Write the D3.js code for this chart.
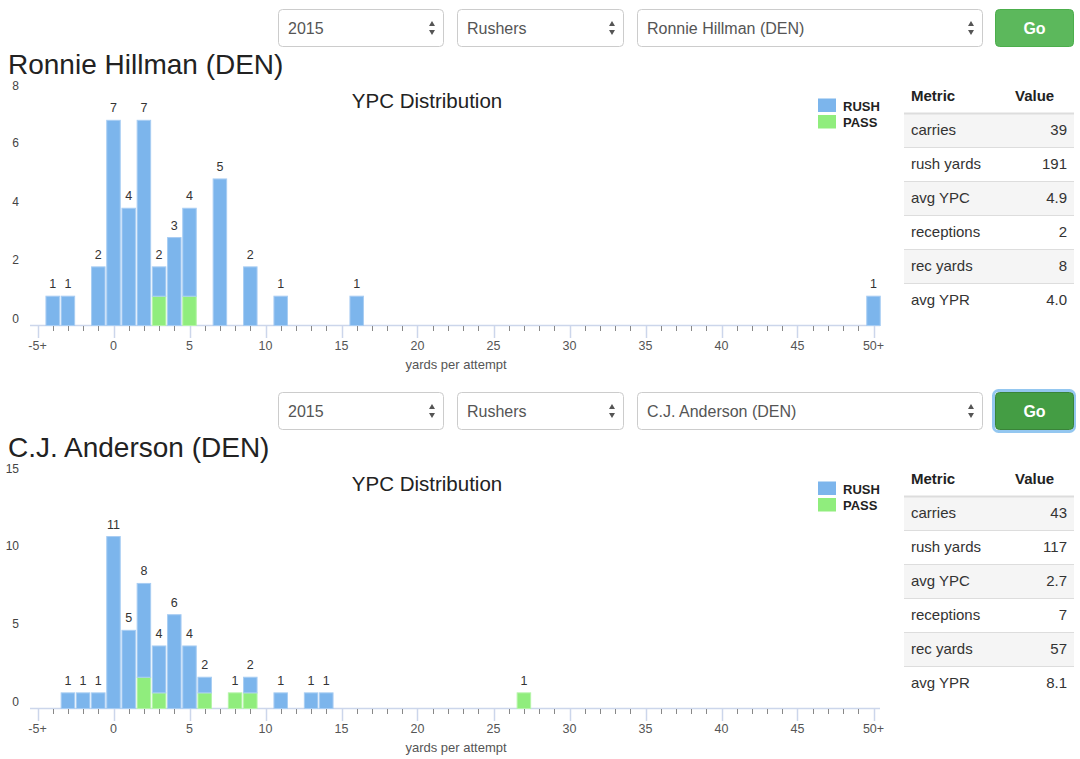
<!DOCTYPE html>
<html>
<head>
<meta charset="utf-8">
<script src="https://cdn.jsdelivr.net/npm/d3@7/dist/d3.min.js"></script>
<style>
  html, body { margin: 0; padding: 0; background: #fff; }
  svg { display: block; font-family: "Helvetica Neue", Helvetica, Arial, "Liberation Sans", sans-serif; }
</style>
</head>
<body>
<svg id="page" width="1080" height="759"></svg>
<script>
// ---------- DATA ----------
const xTickValues = [-5, 0, 5, 10, 15, 20, 25, 30, 35, 40, 45, 50];
const xTickLabels = ["-5+", "0", "5", "10", "15", "20", "25", "30", "35", "40", "45", "50+"];
const metricNames = ["carries", "rush yards", "avg YPC", "receptions", "rec yards", "avg YPR"];
const controlYear = "2015";
const controlType = "Rushers";

const hillmanName = "Ronnie Hillman (DEN)";
const hillmanYards = [-4, -3, -1, 0, 1, 2, 3, 4, 5, 7, 9, 11, 16, 50];
const hillmanRush  = [ 1,  1,  2, 7, 4, 7, 1, 3, 3, 5, 2, 1,  1,  1];
const hillmanPass  = [ 0,  0,  0, 0, 0, 0, 1, 0, 1, 0, 0, 0,  0,  0];
const hillmanYTicks = [0, 2, 4, 6, 8];
const hillmanStats = ["39", "191", "4.9", "2", "8", "4.0"];

const andersonName = "C.J. Anderson (DEN)";
const andersonYards = [-3, -2, -1, 0, 1, 2, 3, 4, 5, 6, 8, 9, 11, 13, 14, 27];
const andersonRush  = [ 1,  1,  1, 11, 5, 6, 3, 6, 4, 1, 0, 1, 1, 1, 1, 0];
const andersonPass  = [ 0,  0,  0, 0, 0, 2, 1, 0, 0, 1, 1, 1, 0, 0, 0, 1];
const andersonYTicks = [0, 5, 10, 15];
const andersonStats = ["43", "117", "2.7", "7", "57", "8.1"];

const legendLabels = ["RUSH", "PASS"];
const chartTitle = "YPC Distribution";
const xAxisTitle = "yards per attempt";

// ---------- DRAW ----------
const svg = d3.select("#page");
svg.append("rect").attr("width", 1080).attr("height", 759).attr("fill", "#fff");

const BLUE = "#7cb5ec", GREEN = "#90ed7d";

function drawSelect(g, x, w, label) {
  const s = g.append("g");
  s.append("rect").attr("x", x + 0.5).attr("y", 9.5).attr("width", w).attr("height", 37)
    .attr("rx", 4).attr("fill", "#fff").attr("stroke", "#ccc");
  s.append("text").attr("x", x + 10).attr("y", 34).attr("font-size", 16).attr("fill", "#555").text(label);
  const ax = x + w - 11;
  s.append("path").attr("d", `M${ax - 3},26 L${ax + 3},26 L${ax},21 Z`).attr("fill", "#555");
  s.append("path").attr("d", `M${ax - 3},30 L${ax + 3},30 L${ax},35 Z`).attr("fill", "#555");
}

function drawBlock(offY, name, yards, rush, pass, yTicks, stats, focused) {
  const g = svg.append("g").attr("transform", `translate(0,${offY})`);

  // controls
  drawSelect(g, 278, 165, controlYear);
  drawSelect(g, 457, 166, controlType);
  drawSelect(g, 637, 345, name);
  if (focused) {
    g.append("rect").attr("x", 993.5).attr("y", 7.5).attr("width", 81).attr("height", 41).attr("rx", 5)
      .attr("fill", "none").attr("stroke", "#66afe9").attr("stroke-width", 3).attr("opacity", 0.7);
  }
  g.append("rect").attr("x", 995.5).attr("y", 9.5).attr("width", 78).attr("height", 37).attr("rx", 4)
    .attr("fill", focused ? "#449d44" : "#5cb85c").attr("stroke", focused ? "#398439" : "#4cae4c");
  g.append("text").attr("x", 1034.5).attr("y", 34).attr("text-anchor", "middle")
    .attr("font-size", 16).attr("font-weight", "bold").attr("fill", "#fff").text("Go");

  // player title
  g.append("text").attr("x", 8).attr("y", 73.5).attr("font-size", 28).attr("fill", "#222").text(name);

  // scales
  const x = d3.scaleLinear().domain([-5, 50]).range([37.5, 873.5]);
  const y = d3.scaleLinear().domain([0, yTicks[yTicks.length - 1]]).range([325.5, 91]);

  // y tick labels
  g.selectAll(".ytick").data(yTicks).join("text")
    .attr("x", 19).attr("y", (d, i) => y(d) - 2.5 + (i === yTicks.length - 1 ? 1 : 0)).attr("text-anchor", "end")
    .attr("font-size", 12).attr("fill", "#444").text(d => d);

  // chart title
  g.append("text").attr("x", 427).attr("y", 108).attr("text-anchor", "middle")
    .attr("font-size", 20.5).attr("fill", "#222").text(chartTitle);

  // legend
  const legendColors = [BLUE, GREEN];
  legendLabels.forEach((lab, i) => {
    g.append("rect").attr("x", 818).attr("y", 98.5 + i * 16.5).attr("width", 18).attr("height", 13.5)
      .attr("fill", legendColors[i]);
    g.append("text").attr("x", 843).attr("y", 110.5 + i * 16.5).attr("font-size", 13)
      .attr("font-weight", "bold").attr("fill", "#222").text(lab);
  });

  // axis line and ticks
  const ax = g.append("g");
  ax.append("line").attr("x1", 30).attr("x2", 880).attr("y1", 325.5).attr("y2", 325.5)
    .attr("stroke", "#ccd6eb").attr("stroke-width", 1.5);
  const minor = d3.range(-5, 51).filter(v => v % 5 !== 0);
  ax.selectAll(".minor").data(minor).join("line")
    .attr("x1", d => Math.round(x(d)) + 0.5).attr("x2", d => Math.round(x(d)) + 0.5)
    .attr("y1", 326).attr("y2", 331).attr("stroke", "#888").attr("stroke-width", 1);
  ax.selectAll(".major").data(xTickValues).join("line")
    .attr("x1", d => Math.round(x(d)) + 0.5).attr("x2", d => Math.round(x(d)) + 0.5)
    .attr("y1", 326).attr("y2", 338).attr("stroke", "#ccd6eb").attr("stroke-width", 1.5);
  ax.selectAll(".xlab").data(xTickValues).join("text")
    .attr("x", d => x(d)).attr("y", 349.5).attr("text-anchor", "middle")
    .attr("font-size", 12.5).attr("fill", "#555").text((d, i) => xTickLabels[i]);
  g.append("text").attr("x", 456).attr("y", 368.5).attr("text-anchor", "middle")
    .attr("font-size", 13).attr("fill", "#555").text(xAxisTitle);

  // bars
  const bw = 13.5;
  const rows = yards.map((v, i) => ({ v, rush: rush[i], pass: pass[i] }));
  const bars = g.append("g");
  rows.forEach(r => {
    if (r.pass > 0) {
      bars.append("rect").attr("x", x(r.v) - bw / 2).attr("width", bw)
        .attr("y", y(r.pass)).attr("height", y(0) - y(r.pass))
        .attr("fill", GREEN).attr("stroke", "#b5f4a8").attr("stroke-width", 1);
    }
    if (r.rush > 0) {
      bars.append("rect").attr("x", x(r.v) - bw / 2).attr("width", bw)
        .attr("y", y(r.pass + r.rush)).attr("height", y(r.pass) - y(r.pass + r.rush))
        .attr("fill", BLUE).attr("stroke", "#a8cdf3").attr("stroke-width", 1);
    }
    bars.append("text").attr("x", x(r.v)).attr("y", y(r.rush + r.pass) - 8)
      .attr("text-anchor", "middle").attr("font-size", 12.5).attr("fill", "#333")
      .text(r.rush + r.pass);
  });

  // stats table
  const t = g.append("g");
  t.append("text").attr("x", 911).attr("y", 101).attr("font-size", 15).attr("font-weight", "bold")
    .attr("fill", "#222").text("Metric");
  t.append("text").attr("x", 1015).attr("y", 101).attr("font-size", 15).attr("font-weight", "bold")
    .attr("fill", "#222").text("Value");
  metricNames.forEach((m, i) => {
    const top = 113 + i * 34;
    if (i % 2 === 0) {
      t.append("rect").attr("x", 904).attr("y", top).attr("width", 170).attr("height", 34).attr("fill", "#f5f5f5");
    }
    t.append("line").attr("x1", 904).attr("x2", 1074).attr("y1", top + 0.5).attr("y2", top + 0.5)
      .attr("stroke", "#ddd").attr("stroke-width", i === 0 ? 2 : 1);
    t.append("text").attr("x", 911).attr("y", top + 22).attr("font-size", 15).attr("fill", "#333").text(m);
    t.append("text").attr("x", 1067).attr("y", top + 22).attr("text-anchor", "end")
      .attr("font-size", 15).attr("fill", "#333").text(stats[i]);
  });
}

drawBlock(0, hillmanName, hillmanYards, hillmanRush, hillmanPass, hillmanYTicks, hillmanStats, false);
drawBlock(383, andersonName, andersonYards, andersonRush, andersonPass, andersonYTicks, andersonStats, true);
</script>
</body>
</html>
